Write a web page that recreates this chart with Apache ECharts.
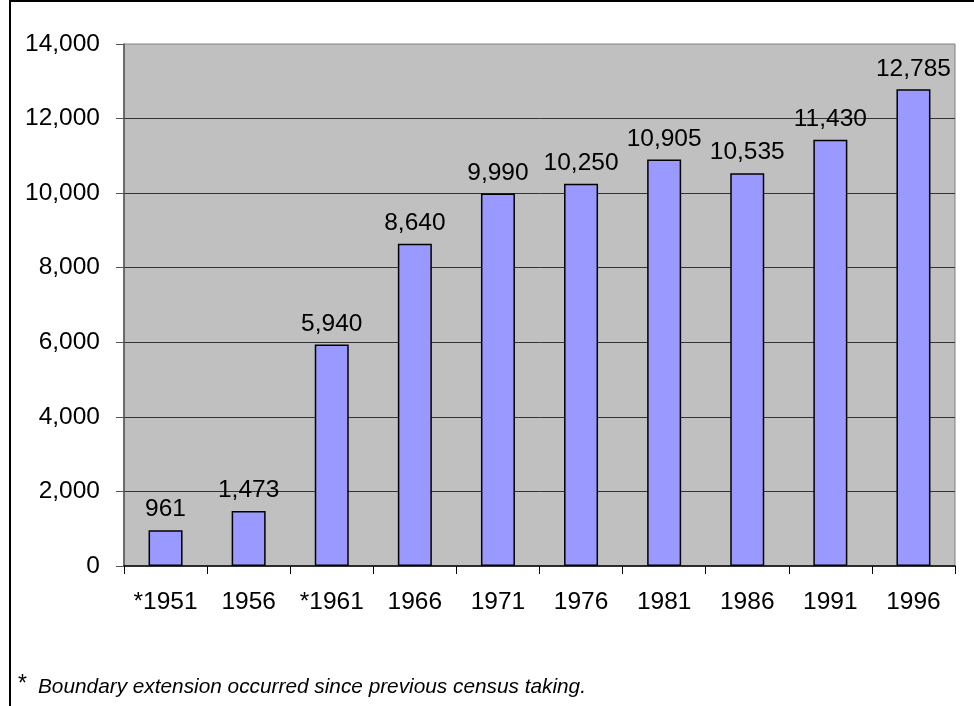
<!DOCTYPE html>
<html>
<head>
<meta charset="utf-8">
<script src="https://cdn.jsdelivr.net/npm/echarts@6/dist/echarts.min.js"></script>
<style>
html,body{margin:0;padding:0;background:#fff;}
#c{width:974px;height:706px;}
</style>
</head>
<body>
<div id="c"></div>
<script>
const categories = ['*1951','1956','*1961','1966','1971','1976','1981','1986','1991','1996'];
const values = [961, 1473, 5940, 8640, 9990, 10250, 10905, 10535, 11430, 12785];
const yTicks = [0, 2000, 4000, 6000, 8000, 10000, 12000, 14000];
const footnote = 'Boundary extension occurred since previous census taking.';

const fmt = v => v.toLocaleString('en-US');
const chart = echarts.init(document.getElementById('c'));
const FONT = '"Liberation Sans", Arial, sans-serif';
chart.setOption({
  animation: false,
  backgroundColor: '#ffffff',
  textStyle: { fontFamily: FONT },
  grid: {
    left: 124, right: 19, top: 44, bottom: 140,
    show: true, backgroundColor: '#C0C0C0', borderColor: '#808080', borderWidth: 1
  },
  xAxis: {
    type: 'category',
    data: categories,
    axisLine: { lineStyle: { color: '#000', width: 1.5 } },
    axisTick: { show: true, interval: 0, length: 8, lineStyle: { color: '#000' } },
    axisLabel: { color: '#000', fontSize: 24.5, fontFamily: FONT, margin: 24, interval: 0, hideOverlap: false }
  },
  yAxis: {
    type: 'value',
    min: yTicks[0], max: yTicks[yTicks.length - 1], interval: 2000,
    axisLine: { show: true, lineStyle: { color: '#555', width: 1.5 } },
    axisTick: { show: true, length: 8, lineStyle: { color: '#555' } },
    axisLabel: { color: '#000', fontSize: 24.5, fontFamily: FONT, margin: 24, formatter: v => fmt(v) },
    splitLine: { show: true, showMinLine: false, showMaxLine: false, lineStyle: { color: '#333', width: 1 } }
  },
  series: [{
    type: 'bar',
    data: values,
    barWidth: 34,
    itemStyle: { color: '#9999FF', borderColor: '#000', borderWidth: 1.5 },
    label: {
      show: true, position: 'top', distance: 8,
      color: '#000', fontSize: 24.5, fontFamily: FONT,
      formatter: p => fmt(p.value)
    }
  }],
  graphic: [
    { type: 'line', shape: { x1: 10, y1: 1, x2: 974, y2: 1 }, style: { stroke: '#000', lineWidth: 2 } },
    { type: 'line', shape: { x1: 10, y1: 0, x2: 10, y2: 706 }, style: { stroke: '#000', lineWidth: 2 } },
    { type: 'text', left: 18, top: 673, style: { text: '*', fontSize: 23, fontFamily: FONT, fill: '#000' } },
    { type: 'text', left: 38, top: 677, style: { text: footnote, fontSize: 20.8, fontStyle: 'italic', fontFamily: FONT, fill: '#000' } }
  ]
});
</script>
</body>
</html>
